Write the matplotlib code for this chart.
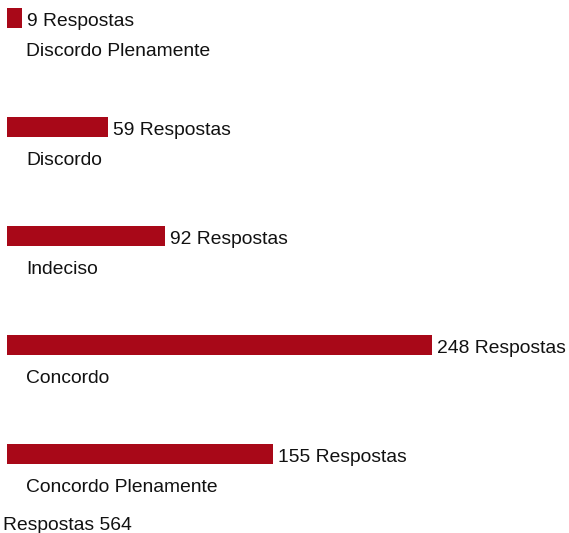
import matplotlib.pyplot as plt

# Survey answers (Likert scale)
categories = ['Discordo Plenamente', 'Discordo', 'Indeciso', 'Concordo', 'Concordo Plenamente']
answers = [9, 59, 92, 248, 155]
total = 564

W, H = 569, 533
px_per_unit = 425 / 248  # bar length scale in pixels
x0 = 7                   # left edge of bars in pixels
row_top = 18             # centre of first bar in pixels
row_gap = 109            # distance between rows in pixels

plt.rcParams['font.family'] = ['Liberation Sans', 'DejaVu Sans']
fig = plt.figure(figsize=(W / 100, H / 100), dpi=100)
ax = fig.add_axes([0, 0, 1, 1])
ax.set_xlim(-x0 / px_per_unit, (W - x0) / px_per_unit)
ax.set_ylim((H - row_top) / row_gap, -row_top / row_gap)
ax.axis('off')

ypos = list(range(len(categories)))
bars = ax.barh(ypos, answers, height=20 / row_gap, color='#a80818', left=0)

for y, v, cat in zip(ypos, answers, categories):
    ax.text(v + 5 / px_per_unit, y + 3.5 / row_gap, f'{v} Respostas', va='center', ha='left',
            fontsize=13.9, color='#111111')
    ax.text(19 / px_per_unit, y + 33.5 / row_gap, cat, va='center', ha='left',
            fontsize=13.9, color='#111111')

ax.text(-4 / px_per_unit, (525 - row_top) / row_gap, f'Respostas {total}',
        va='center', ha='left', fontsize=13.9, color='#111111')

fig.savefig('out.png', dpi=100)
